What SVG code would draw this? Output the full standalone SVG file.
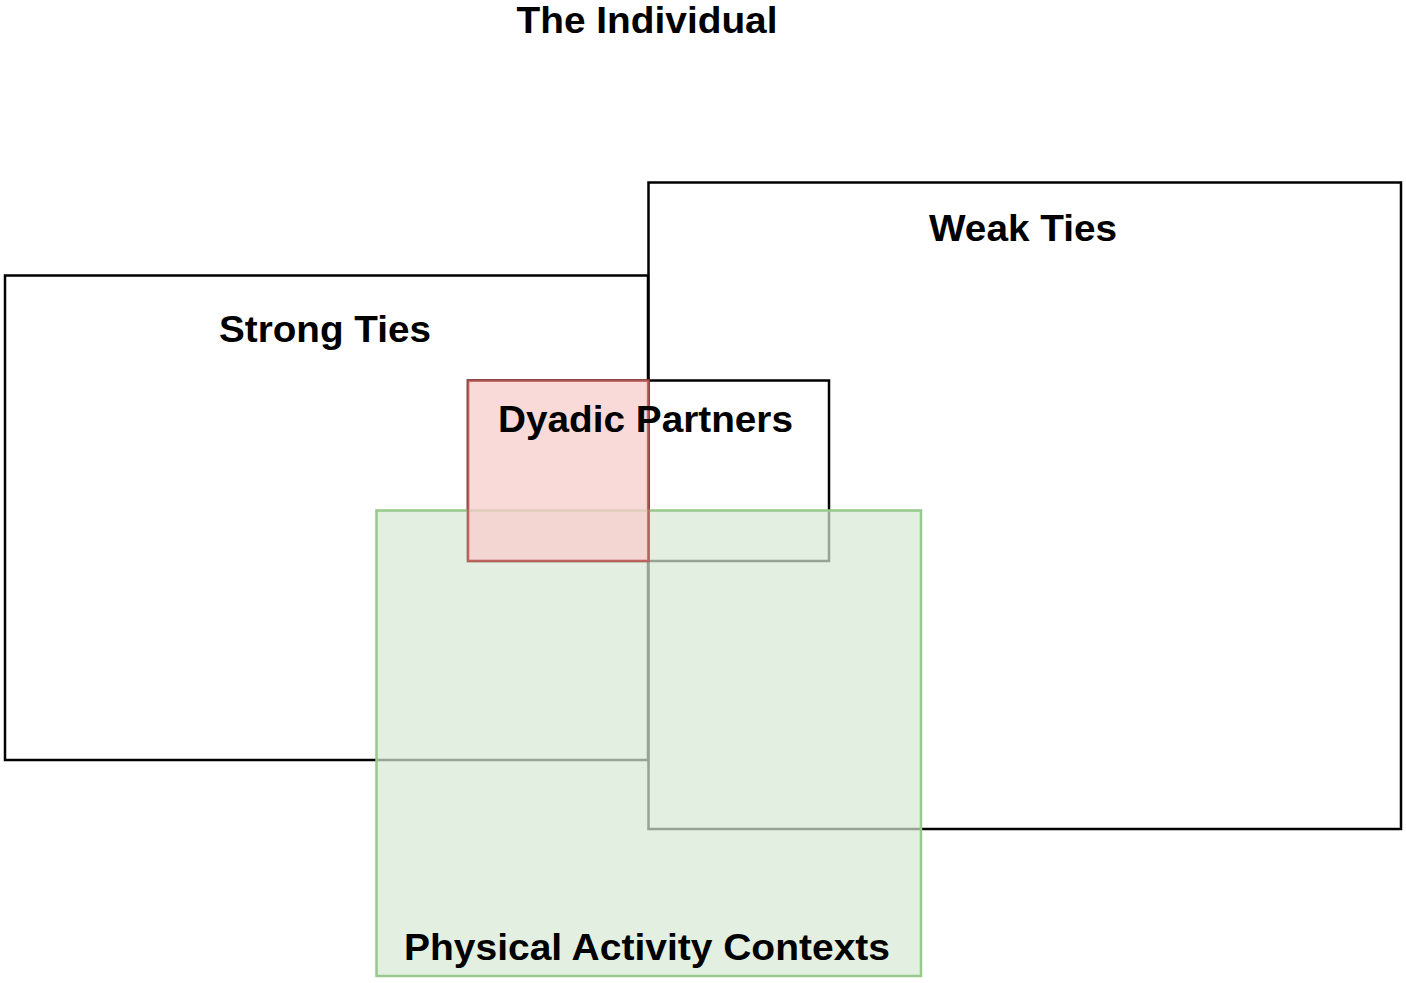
<svg xmlns="http://www.w3.org/2000/svg" width="1406" height="983" viewBox="0 0 1406 983">
<style>
.box{fill:none;stroke:#000;stroke-width:2.5}
.lbl{font-family:"Liberation Sans",Arial,sans-serif;font-weight:bold;font-size:37px;fill:#000;text-anchor:middle}
</style>
<rect width="1406" height="983" fill="#fff"/>
<g id="title"><text class="lbl" x="647" y="33" textLength="261" lengthAdjust="spacingAndGlyphs">The Individual</text></g>
<g id="strong-ties">
<rect class="box" x="5" y="275.5" width="643" height="484.5"/>
<text class="lbl" x="325" y="342" textLength="212" lengthAdjust="spacingAndGlyphs">Strong Ties</text>
</g>
<g id="weak-ties">
<rect class="box" x="648.5" y="182.5" width="752.5" height="646.5"/>
<text class="lbl" x="1023" y="241" textLength="188" lengthAdjust="spacingAndGlyphs">Weak Ties</text>
</g>
<g id="dyadic-partners-outline">
<rect class="box" x="468" y="380.5" width="361" height="180.5"/>
</g>
<g id="physical-activity-contexts">
<rect x="376.5" y="510.5" width="544.5" height="465.5" fill="#d5e8d4" fill-opacity="0.7" stroke="#97c98c" stroke-width="2.5"/>
<text class="lbl" x="647" y="960" textLength="486" lengthAdjust="spacingAndGlyphs">Physical Activity Contexts</text>
</g>
<g id="dyadic-partners">
<rect x="468" y="380.5" width="180.5" height="180.5" fill="#f8cecc" fill-opacity="0.75" stroke="#b85450" stroke-opacity="0.85" stroke-width="2.5"/>
<text class="lbl" x="645.5" y="432" textLength="295" lengthAdjust="spacingAndGlyphs">Dyadic Partners</text>
</g>
<g id="connectors"></g>
</svg>
